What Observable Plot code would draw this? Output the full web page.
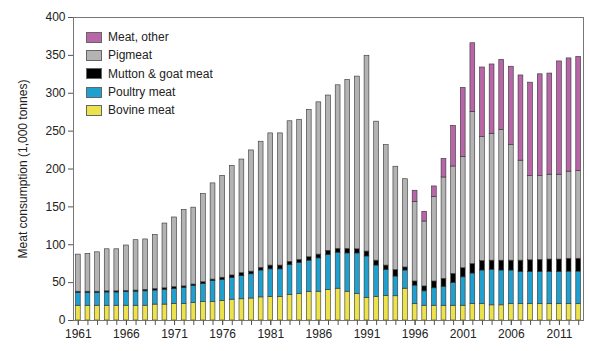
<!DOCTYPE html>
<html>
<head>
<meta charset="utf-8">
<script src="https://cdn.jsdelivr.net/npm/d3@7"></script>
<script src="https://cdn.jsdelivr.net/npm/@observablehq/plot@0.6"></script>
<style>
  html, body { margin: 0; padding: 0; background: #fff; }
  #wrap { position: relative; width: 590px; height: 351px; }
  #legend { position: absolute; left: 86px; top: 28px; font-family: "Liberation Sans", Arial, sans-serif; font-size: 12px; color: #222; }
  #legend .row { display: flex; align-items: center; height: 18.3px; }
  #legend .sw { width: 14px; height: 9px; border: 1px solid #666; margin-right: 6px; }
</style>
</head>
<body>
<div id="wrap"><div id="legend"></div></div>
<script>
const years = d3.range(1961, 2014);
const labelYears = d3.range(1961, 2014, 5);
const yTicks = [0, 50, 100, 150, 200, 250, 300, 350, 400];

const bovine = [19.5,19.5,19.5,19.5,19.5,19.5,19.5,19.5,21,21,22,22,23,24.5,24.5,26,27.5,28,29,30.5,31,31,33.5,35,37.5,38,40,42,38,35,30,31,32.5,32,42,21.5,19.5,19.5,19.5,19.5,19.5,22,21.5,20,20,21.5,21.5,21.5,21.5,21.5,21.5,21.5,21.5];
const poultry = [17,17,17,17.5,17.5,18,18.5,19,18.5,19.5,19.5,21,22.5,23.5,27.5,27.5,28.5,30.5,32,35.5,36.5,36.5,39.5,41,41.5,44,46.5,47.5,50.5,53.5,54.5,41.5,34,26,24,24.5,19,23,25,30,37.5,40,44.5,47,46,44.5,42.5,42.5,42.5,42.5,42.5,43,43];
const mutton = [1.5,1.5,1.5,1.5,1.5,1.5,1.5,2,2,2,2.5,2,2,2.5,2,3,3.5,4,3.5,3.5,5,5,4.5,4,4.5,5,5.5,5,6,5.5,6.5,6.5,6,8.5,4,5.5,6.5,9,10.5,12,12,12.5,12.5,12,13,13,15,15.5,16,16.5,16.5,17,17];
const pig = [49,50,52,55.5,55.5,60,66.5,66.5,71.5,85.5,92,101,101.5,116.5,127,134.5,144.5,150,160,166.5,174.5,174.5,185.5,185,194.5,201,205,216,223,228,258.5,183.5,159,136.5,116.5,105.2,85.7,111.8,133.8,141.8,147,201,163.5,167.5,172.5,153,132,111,110.5,112,112,115,116];
const other = [0,0,0,0,0,0,0,0,0,0,0,0,0,0,0,0,0,0,0,0,0,0,0,0,0,0,0,0,0,0,0,0,0,0,0,14.6,12.8,13.7,24.5,53.7,91,90.5,92,91.5,92.5,103,112.5,123.5,134.5,133.5,149.5,149.5,150.5];

const seriesNames = ["Meat, other", "Pigmeat", "Mutton & goat meat", "Poultry meat", "Bovine meat"];
const seriesColors = ["#b866a8", "#b3b3b3", "#000000", "#1fa0cf", "#ece34c"];
const stackOrder = ["Bovine meat", "Poultry meat", "Mutton & goat meat", "Pigmeat", "Meat, other"];
const seriesValues = {
  "Bovine meat": bovine,
  "Poultry meat": poultry,
  "Mutton & goat meat": mutton,
  "Pigmeat": pig,
  "Meat, other": other
};

const rows = [];
years.forEach((yr, i) => {
  for (const s of stackOrder) {
    const v = seriesValues[s][i];
    if (v > 0) rows.push({year: yr, series: s, value: v});
  }
});

const chart = Plot.plot({
  width: 590,
  height: 351,
  marginLeft: 73,
  marginRight: 7,
  marginTop: 17,
  marginBottom: 31,
  style: {fontFamily: "'Liberation Sans', Arial, sans-serif", fontSize: "12px", color: "#222", background: "white"},
  x: {type: "band", domain: years, paddingInner: 0.5, paddingOuter: 0.25, label: null},
  y: {domain: [0, 400], label: null},
  color: {domain: seriesNames, range: seriesColors},
  marks: [
    Plot.barY(rows, {x: "year", y: "value", fill: "series", stroke: "#333", strokeWidth: 0.6, order: stackOrder}),
    Plot.frame({stroke: "#777", strokeWidth: 1}),
    Plot.axisY({ticks: yTicks, tickSize: 5, tickPadding: 3, stroke: "#555",
      label: "Meat consumption (1,000 tonnes)", labelAnchor: "center", labelArrow: "none", labelOffset: 55}),
    Plot.axisX({ticks: years, tickSize: 5, stroke: "#555", tickFormat: () => "", label: null}),
    Plot.axisX({ticks: labelYears, tickSize: 5, tickPadding: 4, stroke: "#555", tickFormat: d => String(d), label: null})
  ]
});
const wrap = document.getElementById("wrap");
wrap.insertBefore(chart, wrap.firstChild);

const legend = document.getElementById("legend");
seriesNames.forEach((name, i) => {
  const row = document.createElement("div");
  row.className = "row";
  const sw = document.createElement("span");
  sw.className = "sw";
  sw.style.background = seriesColors[i];
  const t = document.createElement("span");
  t.textContent = name;
  row.appendChild(sw);
  row.appendChild(t);
  legend.appendChild(row);
});
</script>
</body>
</html>
